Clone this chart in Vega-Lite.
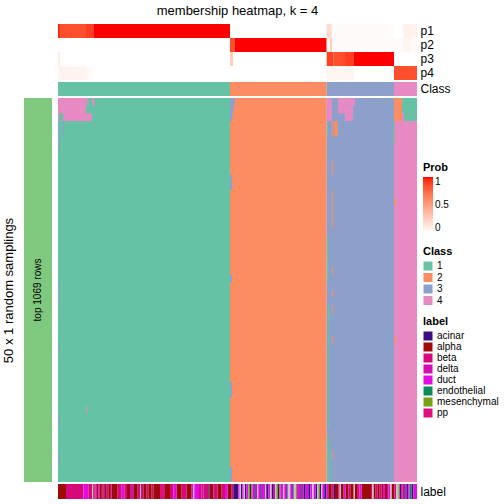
{
  "$schema": "https://vega.github.io/schema/vega-lite/v6.json",
  "padding": {"left": 2, "top": 5, "right": 0, "bottom": 0},
  "bounds": "flush",
  "columns": 2,
  "spacing": {"row": 2, "column": 6},
  "config": {"font": "Liberation Sans", "view": {"stroke": null}, "legend": {"labelColor": "black", "titleColor": "black"}, "axis": {"labelColor": "black", "titleColor": "black"}},
  "resolve": {"scale": {"color": "independent"}, "legend": {"color": "independent"}},
  "datasets": {
    "prob": [
      {"track": "p1", "from": 0, "to": 2, "prob": 0.95},
      {"track": "p1", "from": 2, "to": 28, "prob": 0.85},
      {"track": "p1", "from": 28, "to": 35.3, "prob": 0.9},
      {"track": "p1", "from": 35.3, "to": 172, "prob": 1},
      {"track": "p1", "from": 172, "to": 268.7, "prob": 0},
      {"track": "p1", "from": 268.7, "to": 273.7, "prob": 0.2},
      {"track": "p1", "from": 273.7, "to": 336, "prob": 0.02},
      {"track": "p1", "from": 336, "to": 345.3, "prob": 0},
      {"track": "p1", "from": 345.3, "to": 359, "prob": 0.07},
      {"track": "p2", "from": 0, "to": 172, "prob": 0},
      {"track": "p2", "from": 172, "to": 177, "prob": 0.85},
      {"track": "p2", "from": 177, "to": 268.7, "prob": 1},
      {"track": "p2", "from": 268.7, "to": 272, "prob": 0.05},
      {"track": "p2", "from": 272, "to": 274, "prob": 0.25},
      {"track": "p2", "from": 274, "to": 345, "prob": 0.02},
      {"track": "p2", "from": 345, "to": 353, "prob": 0.06},
      {"track": "p2", "from": 353, "to": 359, "prob": 0.02},
      {"track": "p3", "from": 0, "to": 2, "prob": 0.1},
      {"track": "p3", "from": 2, "to": 172, "prob": 0},
      {"track": "p3", "from": 172, "to": 175.3, "prob": 0.25},
      {"track": "p3", "from": 175.3, "to": 268.7, "prob": 0},
      {"track": "p3", "from": 268.7, "to": 275.3, "prob": 0.9},
      {"track": "p3", "from": 275.3, "to": 287, "prob": 0.85},
      {"track": "p3", "from": 287, "to": 296, "prob": 0.9},
      {"track": "p3", "from": 296, "to": 336, "prob": 1},
      {"track": "p3", "from": 336, "to": 359, "prob": 0},
      {"track": "p4", "from": 0, "to": 28, "prob": 0.06},
      {"track": "p4", "from": 28, "to": 35.3, "prob": 0.03},
      {"track": "p4", "from": 35.3, "to": 268.7, "prob": 0},
      {"track": "p4", "from": 268.7, "to": 296, "prob": 0.05},
      {"track": "p4", "from": 296, "to": 336, "prob": 0},
      {"track": "p4", "from": 336, "to": 359, "prob": 0.85}
    ],
    "classbar": [
      {"track": "Class", "from": 0, "to": 172, "class": 1},
      {"track": "Class", "from": 172, "to": 268.7, "class": 2},
      {"track": "Class", "from": 268.7, "to": 336, "class": 3},
      {"track": "Class", "from": 336, "to": 359, "class": 4}
    ],
    "cells": [
      {"from": 0, "to": 172, "r0": 0, "r1": 50, "class": 1},
      {"from": 172, "to": 268.7, "r0": 0, "r1": 50, "class": 2},
      {"from": 268.7, "to": 336, "r0": 0, "r1": 50, "class": 3},
      {"from": 336, "to": 359, "r0": 0, "r1": 50, "class": 4},
      {"from": 0, "to": 28, "r0": 0, "r1": 3, "class": 4},
      {"from": 1, "to": 5, "r0": 2, "r1": 3, "class": 1},
      {"from": 28.7, "to": 30.3, "r0": 0, "r1": 1, "class": 4},
      {"from": 34, "to": 36.3, "r0": 0, "r1": 1, "class": 4},
      {"from": 28, "to": 34, "r0": 2, "r1": 3, "class": 4},
      {"from": 0, "to": 1, "r0": 3, "r1": 7, "class": 3},
      {"from": 4.3, "to": 5.7, "r0": 3, "r1": 5, "class": 3},
      {"from": 0, "to": 1, "r0": 24, "r1": 27, "class": 3},
      {"from": 0, "to": 1, "r0": 32, "r1": 33, "class": 3},
      {"from": 0, "to": 1, "r0": 41, "r1": 43, "class": 3},
      {"from": 0, "to": 1, "r0": 46, "r1": 48, "class": 3},
      {"from": 28, "to": 29, "r0": 40, "r1": 41, "class": 4},
      {"from": 172, "to": 177, "r0": 0, "r1": 1, "class": 3},
      {"from": 172, "to": 175.5, "r0": 1, "r1": 3, "class": 3},
      {"from": 174, "to": 175, "r0": 2, "r1": 3, "class": 2},
      {"from": 172, "to": 174, "r0": 10, "r1": 12, "class": 3},
      {"from": 172, "to": 174, "r0": 23, "r1": 24, "class": 3},
      {"from": 172, "to": 174, "r0": 37, "r1": 39, "class": 3},
      {"from": 172, "to": 174, "r0": 48, "r1": 50, "class": 3},
      {"from": 268.7, "to": 274, "r0": 0, "r1": 3, "class": 4},
      {"from": 280, "to": 297, "r0": 0, "r1": 1, "class": 4},
      {"from": 280, "to": 295, "r0": 1, "r1": 2, "class": 4},
      {"from": 287, "to": 295, "r0": 2, "r1": 3, "class": 4},
      {"from": 269, "to": 270, "r0": 3, "r1": 5, "class": 1},
      {"from": 274, "to": 275.3, "r0": 3, "r1": 5, "class": 2},
      {"from": 276.3, "to": 279.7, "r0": 3, "r1": 5, "class": 2},
      {"from": 274, "to": 275, "r0": 8, "r1": 10, "class": 2},
      {"from": 274, "to": 275, "r0": 12, "r1": 17, "class": 2},
      {"from": 274, "to": 275, "r0": 22, "r1": 23, "class": 2},
      {"from": 274, "to": 275, "r0": 25, "r1": 26, "class": 2},
      {"from": 274, "to": 275, "r0": 27, "r1": 28, "class": 2},
      {"from": 274, "to": 275, "r0": 31, "r1": 32, "class": 2},
      {"from": 274, "to": 275, "r0": 46, "r1": 47, "class": 2},
      {"from": 269, "to": 270.5, "r0": 18, "r1": 24, "class": 1},
      {"from": 270, "to": 271.5, "r0": 27, "r1": 43, "class": 1},
      {"from": 269, "to": 271, "r0": 44, "r1": 50, "class": 1},
      {"from": 272, "to": 273, "r0": 45, "r1": 50, "class": 1},
      {"from": 336, "to": 337.5, "r0": 13, "r1": 14, "class": 2},
      {"from": 336, "to": 337.5, "r0": 31, "r1": 32, "class": 2},
      {"from": 336, "to": 344, "r0": 0, "r1": 3, "class": 2},
      {"from": 344, "to": 359, "r0": 0, "r1": 2, "class": 1},
      {"from": 346, "to": 359, "r0": 2, "r1": 3, "class": 1},
      {"from": 335.3, "to": 336.5, "r0": 3, "r1": 6, "class": 1}
    ],
    "labels": [
      {"from": 0, "to": 8, "label": "alpha"},
      {"from": 8, "to": 25.3, "label": "beta"},
      {"from": 25.3, "to": 30.3, "label": "duct"},
      {"from": 30.3, "to": 34.3, "label": "beta"},
      {"from": 34.3, "to": 35.3, "label": "NA"},
      {"from": 35.3, "to": 36.3, "label": "alpha"},
      {"from": 36.3, "to": 37.7, "label": "beta"},
      {"from": 37.7, "to": 39, "label": "duct"},
      {"from": 39, "to": 40.3, "label": "alpha"},
      {"from": 40.3, "to": 41.7, "label": "beta"},
      {"from": 41.7, "to": 43, "label": "alpha"},
      {"from": 43, "to": 44.3, "label": "beta"},
      {"from": 44.3, "to": 45.7, "label": "alpha"},
      {"from": 45.7, "to": 47, "label": "delta"},
      {"from": 47, "to": 48.7, "label": "alpha"},
      {"from": 48.7, "to": 50.3, "label": "beta"},
      {"from": 50.3, "to": 52, "label": "alpha"},
      {"from": 52, "to": 53.7, "label": "beta"},
      {"from": 53.7, "to": 59.7, "label": "alpha"},
      {"from": 59.7, "to": 63.7, "label": "beta"},
      {"from": 63.7, "to": 66.3, "label": "duct"},
      {"from": 66.3, "to": 69, "label": "beta"},
      {"from": 69, "to": 72, "label": "alpha"},
      {"from": 72, "to": 75.3, "label": "delta"},
      {"from": 75.3, "to": 79.7, "label": "alpha"},
      {"from": 79.7, "to": 82, "label": "beta"},
      {"from": 82, "to": 83, "label": "NA"},
      {"from": 83, "to": 85.3, "label": "beta"},
      {"from": 85.3, "to": 88.7, "label": "alpha"},
      {"from": 88.7, "to": 90.3, "label": "beta"},
      {"from": 90.3, "to": 93.7, "label": "alpha"},
      {"from": 93.7, "to": 95.3, "label": "beta"},
      {"from": 95.3, "to": 102, "label": "alpha"},
      {"from": 102, "to": 107, "label": "pp"},
      {"from": 107, "to": 112, "label": "alpha"},
      {"from": 112, "to": 115.3, "label": "beta"},
      {"from": 115.3, "to": 118.7, "label": "duct"},
      {"from": 118.7, "to": 123.7, "label": "alpha"},
      {"from": 123.7, "to": 128.7, "label": "beta"},
      {"from": 128.7, "to": 133.7, "label": "alpha"},
      {"from": 133.7, "to": 135.3, "label": "duct"},
      {"from": 135.3, "to": 136.3, "label": "NA"},
      {"from": 136.3, "to": 141, "label": "duct"},
      {"from": 141, "to": 143.7, "label": "beta"},
      {"from": 143.7, "to": 145.3, "label": "delta"},
      {"from": 145.3, "to": 150.3, "label": "beta"},
      {"from": 150.3, "to": 151.3, "label": "acinar"},
      {"from": 151.3, "to": 155.3, "label": "alpha"},
      {"from": 155.3, "to": 159.7, "label": "beta"},
      {"from": 159.7, "to": 163.7, "label": "alpha"},
      {"from": 163.7, "to": 167, "label": "beta"},
      {"from": 167, "to": 169.7, "label": "duct"},
      {"from": 169.7, "to": 173.7, "label": "alpha"},
      {"from": 173.7, "to": 175.3, "label": "beta"},
      {"from": 175.3, "to": 180.3, "label": "acinar"},
      {"from": 180.3, "to": 181.7, "label": "duct"},
      {"from": 181.7, "to": 183, "label": "NA"},
      {"from": 183, "to": 184.3, "label": "acinar"},
      {"from": 184.3, "to": 185.7, "label": "duct"},
      {"from": 185.7, "to": 187, "label": "NA"},
      {"from": 187, "to": 188.3, "label": "acinar"},
      {"from": 188.3, "to": 190.3, "label": "duct"},
      {"from": 190.3, "to": 191.7, "label": "mesenchymal"},
      {"from": 191.7, "to": 193, "label": "acinar"},
      {"from": 193, "to": 194.3, "label": "mesenchymal"},
      {"from": 194.3, "to": 196.3, "label": "duct"},
      {"from": 196.3, "to": 197.7, "label": "acinar"},
      {"from": 197.7, "to": 199, "label": "delta"},
      {"from": 199, "to": 200.3, "label": "NA"},
      {"from": 200.3, "to": 202.3, "label": "duct"},
      {"from": 202.3, "to": 203.7, "label": "acinar"},
      {"from": 203.7, "to": 207, "label": "duct"},
      {"from": 207, "to": 208.3, "label": "NA"},
      {"from": 208.3, "to": 210.3, "label": "acinar"},
      {"from": 210.3, "to": 212.3, "label": "duct"},
      {"from": 212.3, "to": 213.7, "label": "NA"},
      {"from": 213.7, "to": 215, "label": "acinar"},
      {"from": 215, "to": 217, "label": "delta"},
      {"from": 217, "to": 218.3, "label": "NA"},
      {"from": 218.3, "to": 219.7, "label": "mesenchymal"},
      {"from": 219.7, "to": 221, "label": "acinar"},
      {"from": 221, "to": 222.3, "label": "mesenchymal"},
      {"from": 222.3, "to": 225, "label": "duct"},
      {"from": 225, "to": 226.3, "label": "NA"},
      {"from": 226.3, "to": 228.3, "label": "duct"},
      {"from": 228.3, "to": 229.7, "label": "acinar"},
      {"from": 229.7, "to": 232.3, "label": "NA"},
      {"from": 232.3, "to": 234.3, "label": "duct"},
      {"from": 234.3, "to": 235.7, "label": "acinar"},
      {"from": 235.7, "to": 237.7, "label": "NA"},
      {"from": 237.7, "to": 239, "label": "mesenchymal"},
      {"from": 239, "to": 242.3, "label": "duct"},
      {"from": 242.3, "to": 243.7, "label": "acinar"},
      {"from": 243.7, "to": 245.7, "label": "delta"},
      {"from": 245.7, "to": 247.7, "label": "acinar"},
      {"from": 247.7, "to": 250.3, "label": "duct"},
      {"from": 250.3, "to": 252.3, "label": "acinar"},
      {"from": 252.3, "to": 254.3, "label": "duct"},
      {"from": 254.3, "to": 255.7, "label": "NA"},
      {"from": 255.7, "to": 257.7, "label": "duct"},
      {"from": 257.7, "to": 259, "label": "acinar"},
      {"from": 259, "to": 260.3, "label": "NA"},
      {"from": 260.3, "to": 261.7, "label": "mesenchymal"},
      {"from": 261.7, "to": 263, "label": "acinar"},
      {"from": 263, "to": 264.3, "label": "NA"},
      {"from": 264.3, "to": 266.3, "label": "duct"},
      {"from": 266.3, "to": 268.3, "label": "acinar"},
      {"from": 268.3, "to": 270.3, "label": "duct"},
      {"from": 270.3, "to": 273.7, "label": "alpha"},
      {"from": 273.7, "to": 275.7, "label": "beta"},
      {"from": 275.7, "to": 277, "label": "acinar"},
      {"from": 277, "to": 280.3, "label": "alpha"},
      {"from": 280.3, "to": 281.7, "label": "beta"},
      {"from": 281.7, "to": 283, "label": "NA"},
      {"from": 283, "to": 285.7, "label": "alpha"},
      {"from": 285.7, "to": 287.7, "label": "duct"},
      {"from": 287.7, "to": 290.3, "label": "alpha"},
      {"from": 290.3, "to": 292.3, "label": "beta"},
      {"from": 292.3, "to": 295.7, "label": "alpha"},
      {"from": 295.7, "to": 297, "label": "NA"},
      {"from": 297, "to": 299, "label": "alpha"},
      {"from": 299, "to": 301.7, "label": "pp"},
      {"from": 301.7, "to": 303.7, "label": "duct"},
      {"from": 303.7, "to": 313, "label": "alpha"},
      {"from": 313, "to": 314.3, "label": "beta"},
      {"from": 314.3, "to": 315.7, "label": "NA"},
      {"from": 315.7, "to": 317.7, "label": "alpha"},
      {"from": 317.7, "to": 319.7, "label": "beta"},
      {"from": 319.7, "to": 321.7, "label": "alpha"},
      {"from": 321.7, "to": 323.7, "label": "beta"},
      {"from": 323.7, "to": 325, "label": "alpha"},
      {"from": 325, "to": 327, "label": "duct"},
      {"from": 327, "to": 329, "label": "alpha"},
      {"from": 329, "to": 330.3, "label": "beta"},
      {"from": 330.3, "to": 332.3, "label": "duct"},
      {"from": 332.3, "to": 333.7, "label": "NA"},
      {"from": 333.7, "to": 336.3, "label": "alpha"},
      {"from": 336.3, "to": 338.3, "label": "beta"},
      {"from": 338.3, "to": 340.3, "label": "NA"},
      {"from": 340.3, "to": 341.7, "label": "mesenchymal"},
      {"from": 341.7, "to": 343, "label": "acinar"},
      {"from": 343, "to": 344.3, "label": "duct"},
      {"from": 344.3, "to": 346.3, "label": "beta"},
      {"from": 346.3, "to": 347.7, "label": "acinar"},
      {"from": 347.7, "to": 349, "label": "duct"},
      {"from": 349, "to": 350.3, "label": "acinar"},
      {"from": 350.3, "to": 351.7, "label": "duct"},
      {"from": 351.7, "to": 353.7, "label": "endothelial"},
      {"from": 353.7, "to": 355.3, "label": "acinar"},
      {"from": 355.3, "to": 359, "label": "duct"}
    ]
  },
  "concat": [
    {"width": 28, "height": 1, "data": {"values": []}, "mark": "rect", "encoding": {}},
    {
      "width": 359, "height": 56,
      "title": {"text": "membership heatmap, k = 4", "fontSize": 13, "fontWeight": "normal", "offset": 6, "color": "black"},
      "data": {"name": "prob"},
      "mark": "rect",
      "encoding": {
        "x": {"field": "from", "type": "quantitative", "scale": {"domain": [0, 359], "nice": false, "zero": false}, "axis": null},
        "x2": {"field": "to"},
        "y": {"field": "track", "type": "nominal", "scale": {"domain": ["p1", "p2", "p3", "p4"], "paddingInner": 0, "paddingOuter": 0}, "axis": {"orient": "right", "title": null, "ticks": false, "domain": false, "labelFontSize": 12, "labelPadding": 3}},
        "color": {"field": "prob", "type": "quantitative", "scale": {"domain": [0, 1], "range": ["#ffffff", "#ff0000"], "interpolate": "lab"}, "legend": {"title": "Prob", "orient": "none", "legendX": 365, "legendY": 138, "gradientLength": 56, "gradientThickness": 10, "values": [0, 0.5, 1], "format": "~g", "titleFontSize": 11, "labelFontSize": 10, "titlePadding": 4}}
      }
    },
    {"width": 28, "height": 1, "data": {"values": []}, "mark": "rect", "encoding": {}},
    {
      "width": 359, "height": 14,
      "data": {"name": "classbar"},
      "mark": "rect",
      "encoding": {
        "x": {"field": "from", "type": "quantitative", "scale": {"domain": [0, 359], "nice": false, "zero": false}, "axis": null},
        "x2": {"field": "to"},
        "y": {"field": "track", "type": "nominal", "scale": {"paddingInner": 0, "paddingOuter": 0}, "axis": {"orient": "right", "title": null, "ticks": false, "domain": false, "labelFontSize": 12, "labelPadding": 3}},
        "color": {"field": "class", "type": "nominal", "scale": {"domain": [1, 2, 3, 4], "range": ["#66C2A5", "#FC8D62", "#8DA0CB", "#E78AC3"]}, "legend": {"title": "Class", "orient": "none", "legendX": 365, "legendY": 164, "symbolType": "square", "symbolSize": 81, "symbolOpacity": 1, "symbolStrokeWidth": 0, "titleFontSize": 11, "labelFontSize": 10, "rowPadding": 1.5, "titlePadding": 4}}
      }
    },
    {
      "width": 28, "height": 384,
      "data": {"values": [{"group": "top 1069 rows"}]},
      "encoding": {
        "x": {"field": "group", "type": "nominal", "scale": {"paddingInner": 0, "paddingOuter": 0}, "axis": null},
        "y": {"field": "group", "type": "nominal", "scale": {"paddingInner": 0, "paddingOuter": 0}, "axis": {"title": "50 x 1 random samplings", "labels": false, "ticks": false, "domain": false, "titleFontSize": 13, "titleFontWeight": "normal", "titlePadding": 9}}
      },
      "layer": [
        {"mark": {"type": "rect", "color": "#7FC97F"}},
        {"mark": {"type": "text", "angle": 270, "fontSize": 10, "color": "black"}, "encoding": {"text": {"field": "group"}}}
      ]
    },
    {
      "width": 359, "height": 384,
      "data": {"name": "cells"},
      "mark": "rect",
      "encoding": {
        "x": {"field": "from", "type": "quantitative", "scale": {"domain": [0, 359], "nice": false, "zero": false}, "axis": null},
        "x2": {"field": "to"},
        "y": {"field": "r0", "type": "quantitative", "scale": {"domain": [0, 50], "reverse": true, "nice": false, "zero": false}, "axis": null},
        "y2": {"field": "r1"},
        "color": {"field": "class", "type": "nominal", "scale": {"domain": [1, 2, 3, 4], "range": ["#66C2A5", "#FC8D62", "#8DA0CB", "#E78AC3"]}, "legend": null}
      }
    },
    {"width": 28, "height": 1, "data": {"values": []}, "mark": "rect", "encoding": {}},
    {
      "width": 359, "height": 15,
      "data": {"name": "labels"},
      "mark": "rect",
      "encoding": {
        "x": {"field": "from", "type": "quantitative", "scale": {"domain": [0, 359], "nice": false, "zero": false}, "axis": null},
        "x2": {"field": "to"},
        "y": {"datum": "label", "type": "nominal", "scale": {"paddingInner": 0, "paddingOuter": 0}, "axis": {"orient": "right", "title": null, "ticks": false, "domain": false, "labelFontSize": 12, "labelPadding": 3}},
        "color": {"field": "label", "type": "nominal", "scale": {"domain": ["acinar", "alpha", "beta", "delta", "duct", "endothelial", "mesenchymal", "pp", "NA"], "range": ["#3B0F80", "#9E0A0A", "#D6087A", "#D20DB4", "#E20CE2", "#0C8A5C", "#7AA116", "#DE1080", "#C4C4C4"]}, "legend": {"title": "label", "orient": "none", "legendX": 365, "legendY": -168, "values": ["acinar", "alpha", "beta", "delta", "duct", "endothelial", "mesenchymal", "pp"], "symbolType": "square", "symbolSize": 81, "symbolOpacity": 1, "symbolStrokeWidth": 0, "titleFontSize": 11, "labelFontSize": 10, "rowPadding": 1, "titlePadding": 4}}
      }
    }
  ]
}
